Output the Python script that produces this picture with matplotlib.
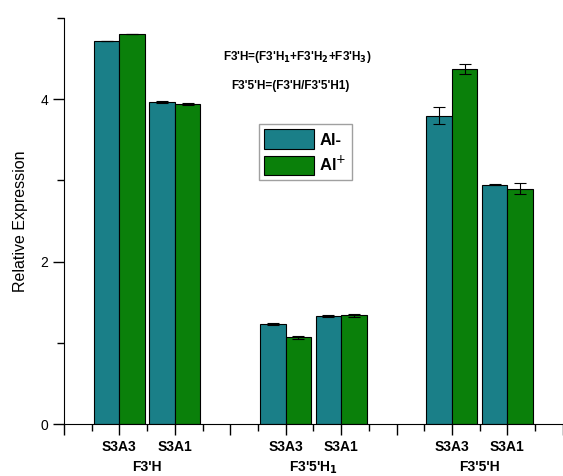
import matplotlib
matplotlib.use("Agg")
import matplotlib.pyplot as plt
from matplotlib.ticker import MultipleLocator
import matplotlib.transforms as mtransforms

plt.rcParams["font.family"] = ["Liberation Sans", "DejaVu Sans"]

# data
genes = ["F3'H", "F3'5'H$_\\mathbf{1}$", "F3'5'H"]
samples = ["S3A3", "S3A1"]
al_minus = [4.72, 3.97, 1.23, 1.33, 3.80, 2.95]
al_minus_err = [0.0, 0.01, 0.01, 0.01, 0.11, 0.01]
al_plus = [4.80, 3.94, 1.07, 1.34, 4.37, 2.90]
al_plus_err = [0.0, 0.01, 0.02, 0.02, 0.06, 0.07]

TEAL = "#1a7f88"
GREEN = "#0a800a"
W = 0.92

# each gene takes 6 x units, samples sit at 2 and 4 inside it
pos = [2 + 6 * g + 2 * s for g in range(len(genes)) for s in range(len(samples))]
labels = [s for g in genes for s in samples]

fig = plt.figure(figsize=(5.63, 4.76), dpi=100)
ax = fig.add_axes([0.1137, 0.109, 0.886, 0.853])

ax.bar(pos, al_minus, width=-W, align="edge", color=TEAL,
       edgecolor="black", linewidth=0.8, label="Al-")
ax.bar(pos, al_plus, width=W, align="edge", color=GREEN,
       edgecolor="black", linewidth=0.8, label="Al$^{+}$")
ax.errorbar([p - W / 2 for p in pos], al_minus, yerr=al_minus_err, fmt="none",
            ecolor="black", elinewidth=0.8, capsize=4, capthick=0.8)
ax.errorbar([p + W / 2 for p in pos], al_plus, yerr=al_plus_err, fmt="none",
            ecolor="black", elinewidth=0.8, capsize=4, capthick=0.8)

ax.set_xlim(0, 18)
ax.set_ylim(0, 5)
ax.spines["top"].set_visible(False)
ax.spines["right"].set_visible(False)

# major ticks on every even unit, labels only under the bar pairs
major = list(range(0, 19, 2))
ax.set_xticks(major)
ax.set_xticklabels([labels[pos.index(m)] if m in pos else "" for m in major],
                   fontsize=10, fontweight="bold")
ax.xaxis.set_minor_locator(MultipleLocator(1))
ax.yaxis.set_major_locator(MultipleLocator(2))
ax.yaxis.set_minor_locator(MultipleLocator(1))
ax.tick_params(axis="both", which="major", length=8, width=1, direction="out")
ax.tick_params(axis="both", which="minor", length=5, width=1, direction="out")
ax.tick_params(axis="y", labelsize=10)
ax.set_ylabel("Relative Expression", fontsize=11.5, labelpad=9)

trans = mtransforms.blended_transform_factory(ax.transData, ax.transAxes)
for g, name in enumerate(genes):
    ax.text(3 + 6 * g, -0.088, name, transform=trans, ha="center", va="top",
            fontsize=10, fontweight="bold")

ax.text(0.318, 0.905, "F3'H=(F3'H$_\\mathbf{1}$+F3'H$_\\mathbf{2}$+F3'H$_\\mathbf{3}$)",
        transform=ax.transAxes, fontsize=8.5, fontweight="bold", va="center")
ax.text(0.336, 0.833, "F3'5'H=(F3'H/F3'5'H1)",
        transform=ax.transAxes, fontsize=8.5, fontweight="bold", va="center")

leg = ax.legend(loc="upper left", bbox_to_anchor=(0.39, 0.738),
                prop={"size": 12, "weight": "bold"}, fancybox=False,
                handlelength=3.0, handleheight=1.4, borderpad=0.3,
                labelspacing=0.35, handletextpad=0.35, borderaxespad=0)
leg.get_frame().set_edgecolor("#888888")
leg.get_frame().set_linewidth(1.0)

fig.savefig("out.png", dpi=100)
